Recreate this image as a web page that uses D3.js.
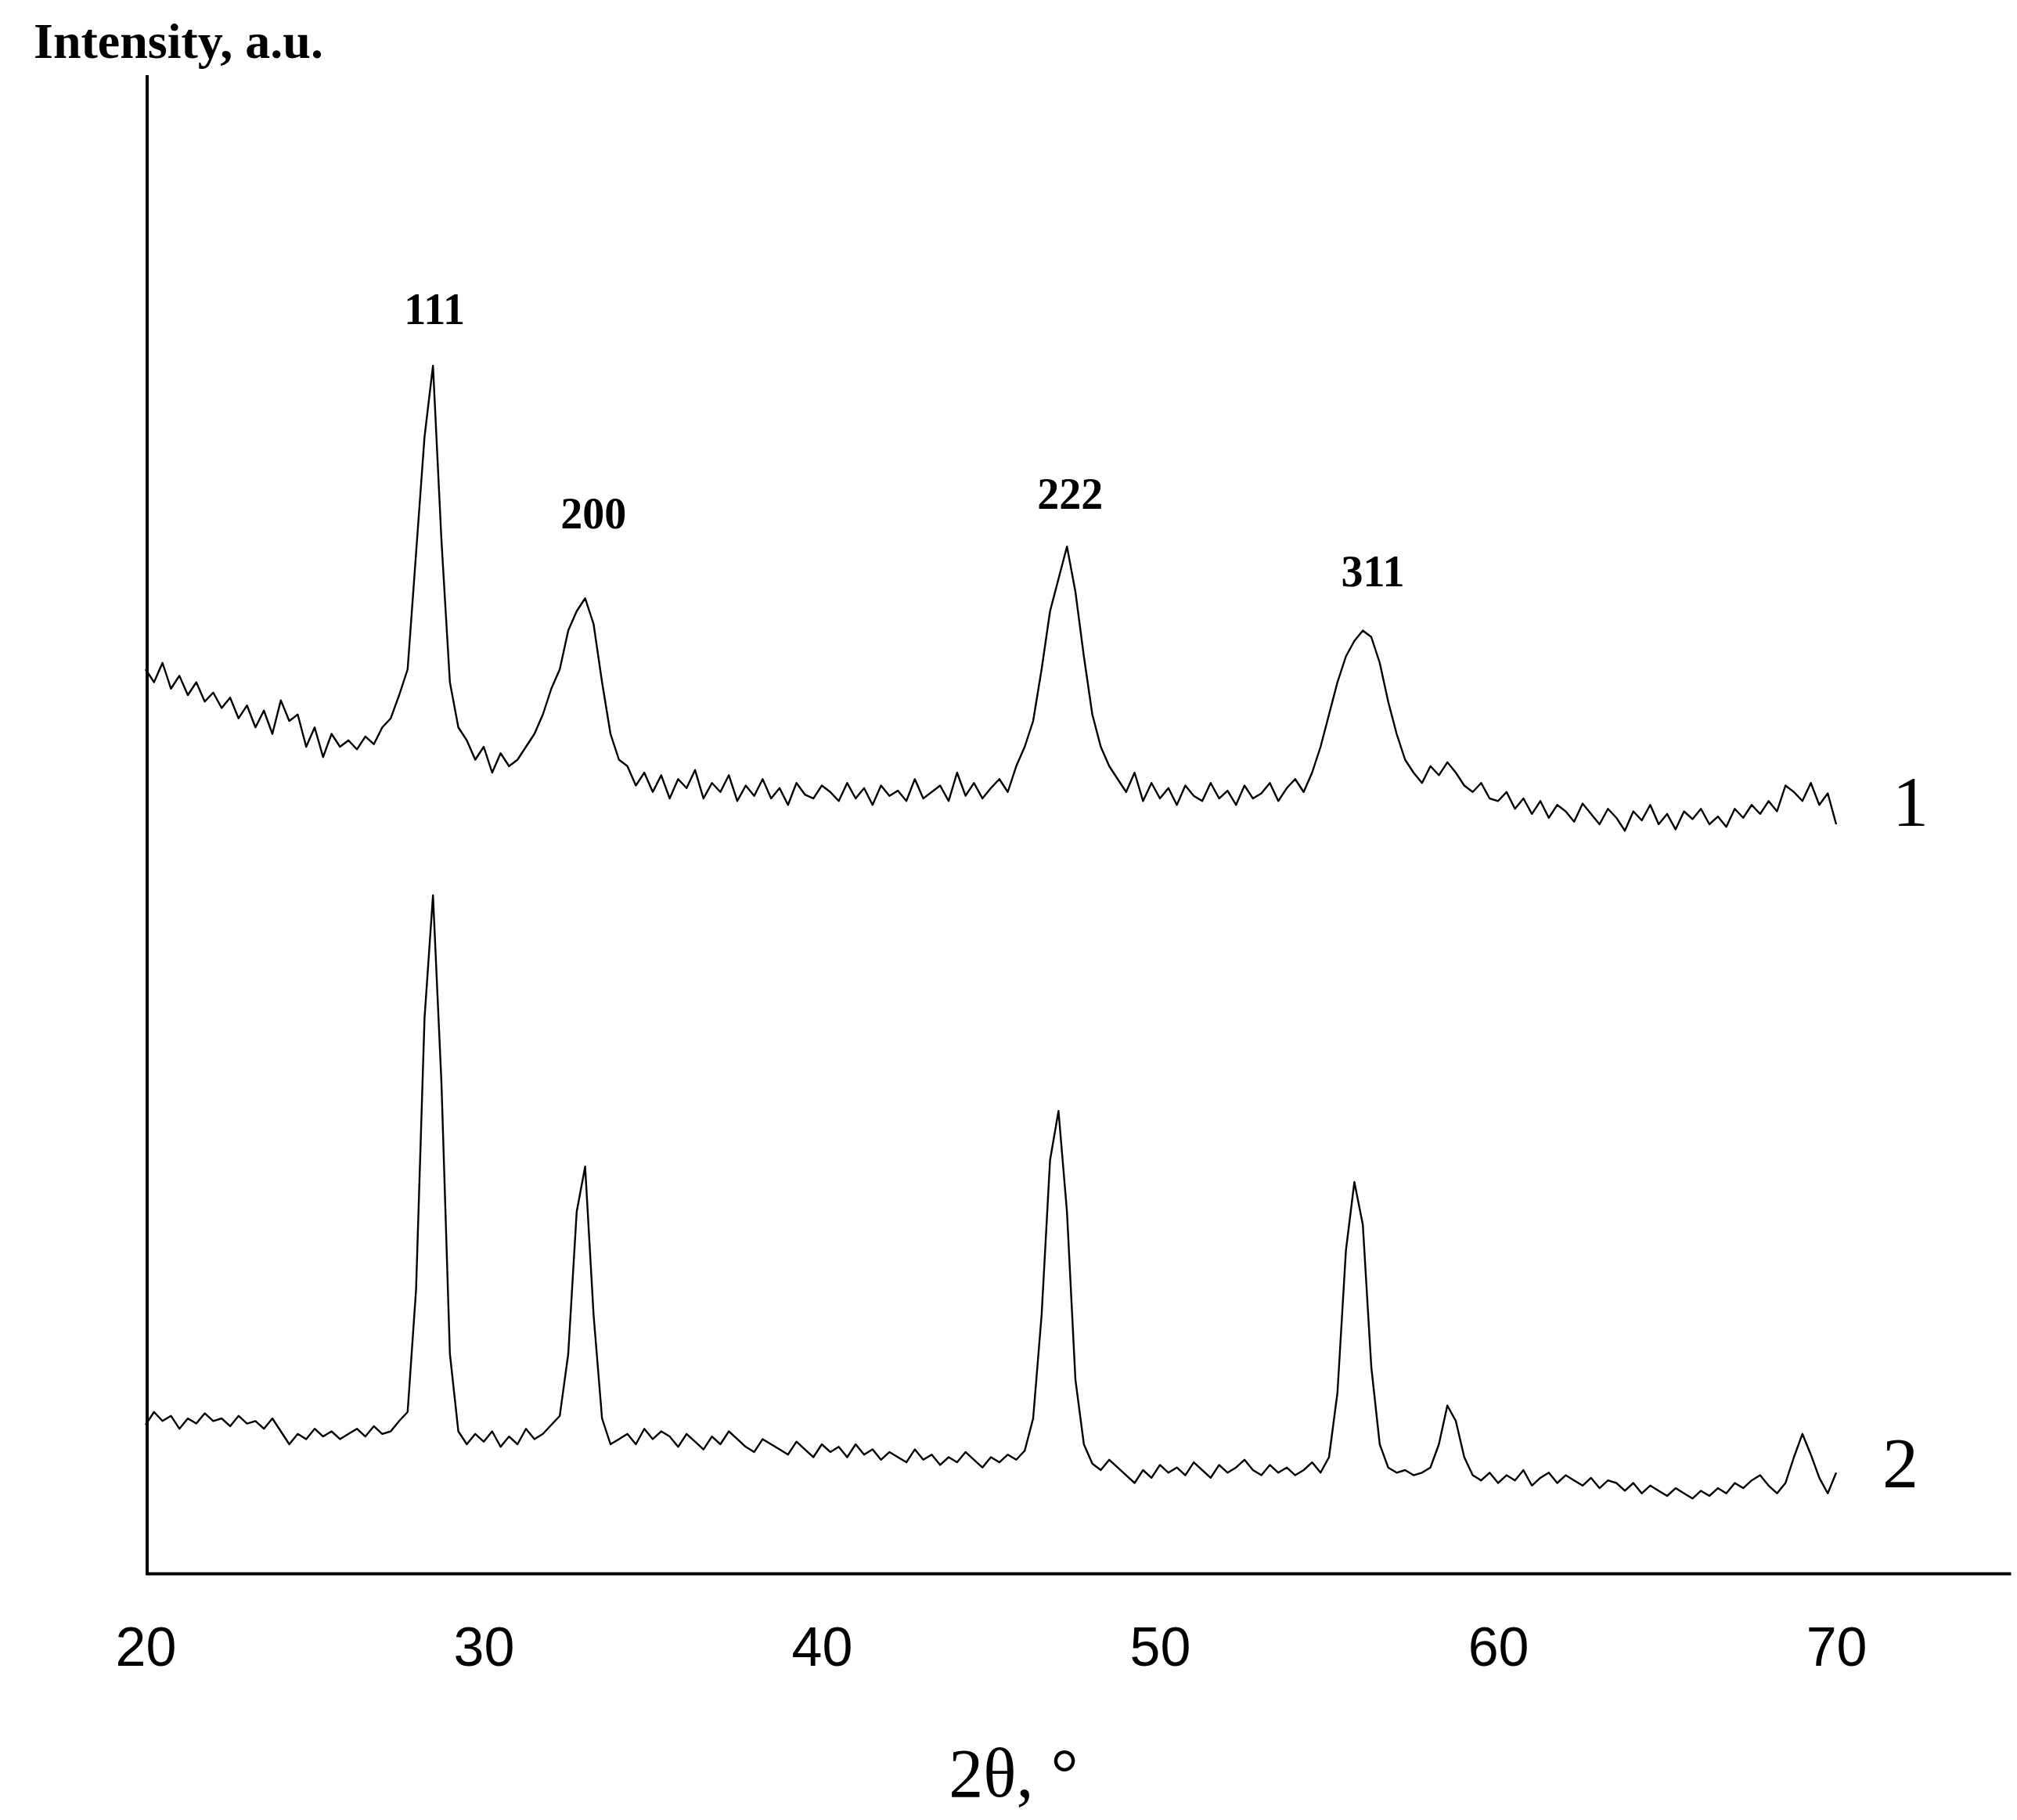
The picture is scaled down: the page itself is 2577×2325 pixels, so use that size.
<!DOCTYPE html>
<html>
<head>
<meta charset="utf-8">
<script src="https://cdn.jsdelivr.net/npm/d3@7"></script>
<style>
  body { margin: 0; background: #fff; }
</style>
</head>
<body>
<div id="chart"></div>
<script>
// 2theta grid, 20..70 step 0.25
let twoTheta = d3.range(0, 201).map(i => 20 + i * 0.25)

// pattern 1 (upper), intensity in a.u.
let pattern1 = [
    700,690,705,685,695,680,690,675,682,
    670,678,662,672,655,668,650,676,
    660,665,640,655,632,650,640,645,
    638,648,642,655,662,680,
    700,790,880,935,800,690,655,645,
    630,640,620,635,625,630,640,650,665,685,
    700,730,745,755,735,690,650,630,
    625,610,620,605,618,600,615,608,622,600,612,605,618,598,610,602,615,600,608,595,612,603,600,610,
    605,598,612,600,608,595,610,602,606,598,615,600,605,610,598,620,602,612,600,608,615,605,625,640,
    660,700,745,770,795,760,710,665,640,625,
    615,605,620,598,612,600,608,595,610,602,598,612,600,606,595,610,600,604,612,598,608,615,605,620,640,665,
    690,710,722,730,725,705,675,650,630,620,
    612,625,618,628,620,610,605,612,600,598,
    605,592,600,588,598,585,595,590,582,596,588,580,592,585,575,590,583,595,580,588,
    576,590,584,592,580,586,578,592,585,595,588,598,590,610,605,598,612,595,604,580
]

// pattern 2 (lower)
let pattern2 = [
    115,125,118,122,112,120,116,124,118,
    120,114,122,116,118,112,120,110,
    100,108,104,112,106,110,104,108,
    112,106,114,108,110,118,
    125,220,430,525,380,170,110,100,
    108,102,110,98,106,100,112,104,108,115,
    122,170,280,315,200,120,100,104,
    108,100,112,104,110,106,98,108,102,96,106,100,110,104,98,94,104,100,96,92,102,96,90,100,
    94,98,90,100,92,96,88,94,90,86,96,88,92,84,90,86,94,88,82,90,86,92,88,95,
    120,200,320,358,280,150,100,85,80,88,
    82,76,70,80,74,84,78,82,76,86,80,74,84,78,82,88,80,76,84,78,82,76,80,86,78,90,
    140,250,303,270,160,100,82,78,80,76,
    78,82,100,130,118,90,76,72,78,70,
    76,72,80,68,74,78,70,76,72,68,74,66,72,70,64,70,62,68,64,60,
    66,62,58,64,60,66,62,70,66,72,76,68,62,70,90,108,92,74,62,78
]

let hkl = ["111", "200", "222", "311"]
let hklPos = [28.5, 33.2, 47.3, 56.25]
let hklInt = [938, 780, 795, 735]
let xTicks = [20, 30, 40, 50, 60, 70]

let svg = d3.select("#chart").append("svg")
    .attr("width", 2577).attr("height", 2325)

let xScale = d3.scaleLinear().domain([20, 70]).range([186, 2346])
let yScale = d3.scaleLinear().domain([0, 1160]).range([2010, 96])

let line = d3.line()
    .x((d, i) => xScale(twoTheta[i]))
    .y(d => yScale(d))

;[pattern1, pattern2].forEach(p => {
    svg.append("path")
        .datum(p)
        .attr("d", line)
        .attr("fill", "none")
        .attr("stroke", "#000")
        .attr("stroke-width", 2.4)
        .attr("stroke-linejoin", "round")
})

// axes
let xAxis = svg.append("g")
    .attr("transform", "translate(0,2010)")
    .call(d3.axisBottom(xScale.copy().domain([20, 75.16]).range([186, 2569]))
        .tickValues(xTicks).tickSize(0).tickPadding(68))
xAxis.select(".domain").attr("stroke-width", 4)
xAxis.selectAll("text")
    .attr("font-family", "Arial, 'Liberation Sans', sans-serif")
    .attr("font-size", 70)
    .attr("fill", "#000")

svg.append("line")
    .attr("x1", 188).attr("x2", 188)
    .attr("y1", 96).attr("y2", 2012)
    .attr("stroke", "#000").attr("stroke-width", 4)

let serif = "'Times New Roman', 'Liberation Serif', serif"

svg.append("text")
    .attr("x", 43).attr("y", 74)
    .attr("font-family", serif).attr("font-weight", "bold")
    .attr("font-size", 64)
    .text("Intensity, a.u.")

svg.append("text")
    .attr("x", 1295).attr("y", 2295)
    .attr("text-anchor", "middle")
    .attr("font-family", serif)
    .attr("font-size", 88)
    .text("2θ, °")

svg.selectAll(".hkl")
    .data(hkl)
    .enter()
    .append("text")
    .attr("x", (d, i) => xScale(hklPos[i]) + 2)
    .attr("y", (d, i) => yScale(hklInt[i]) - 48)
    .attr("text-anchor", "middle")
    .attr("font-family", serif).attr("font-weight", "bold")
    .attr("font-size", 56)
    .text(d => d)

svg.append("text")
    .attr("x", 2418).attr("y", 1055)
    .attr("font-family", serif).attr("font-size", 92)
    .text("1")
svg.append("text")
    .attr("x", 2405).attr("y", 1900)
    .attr("font-family", serif).attr("font-size", 92)
    .text("2")
</script>
</body>
</html>
